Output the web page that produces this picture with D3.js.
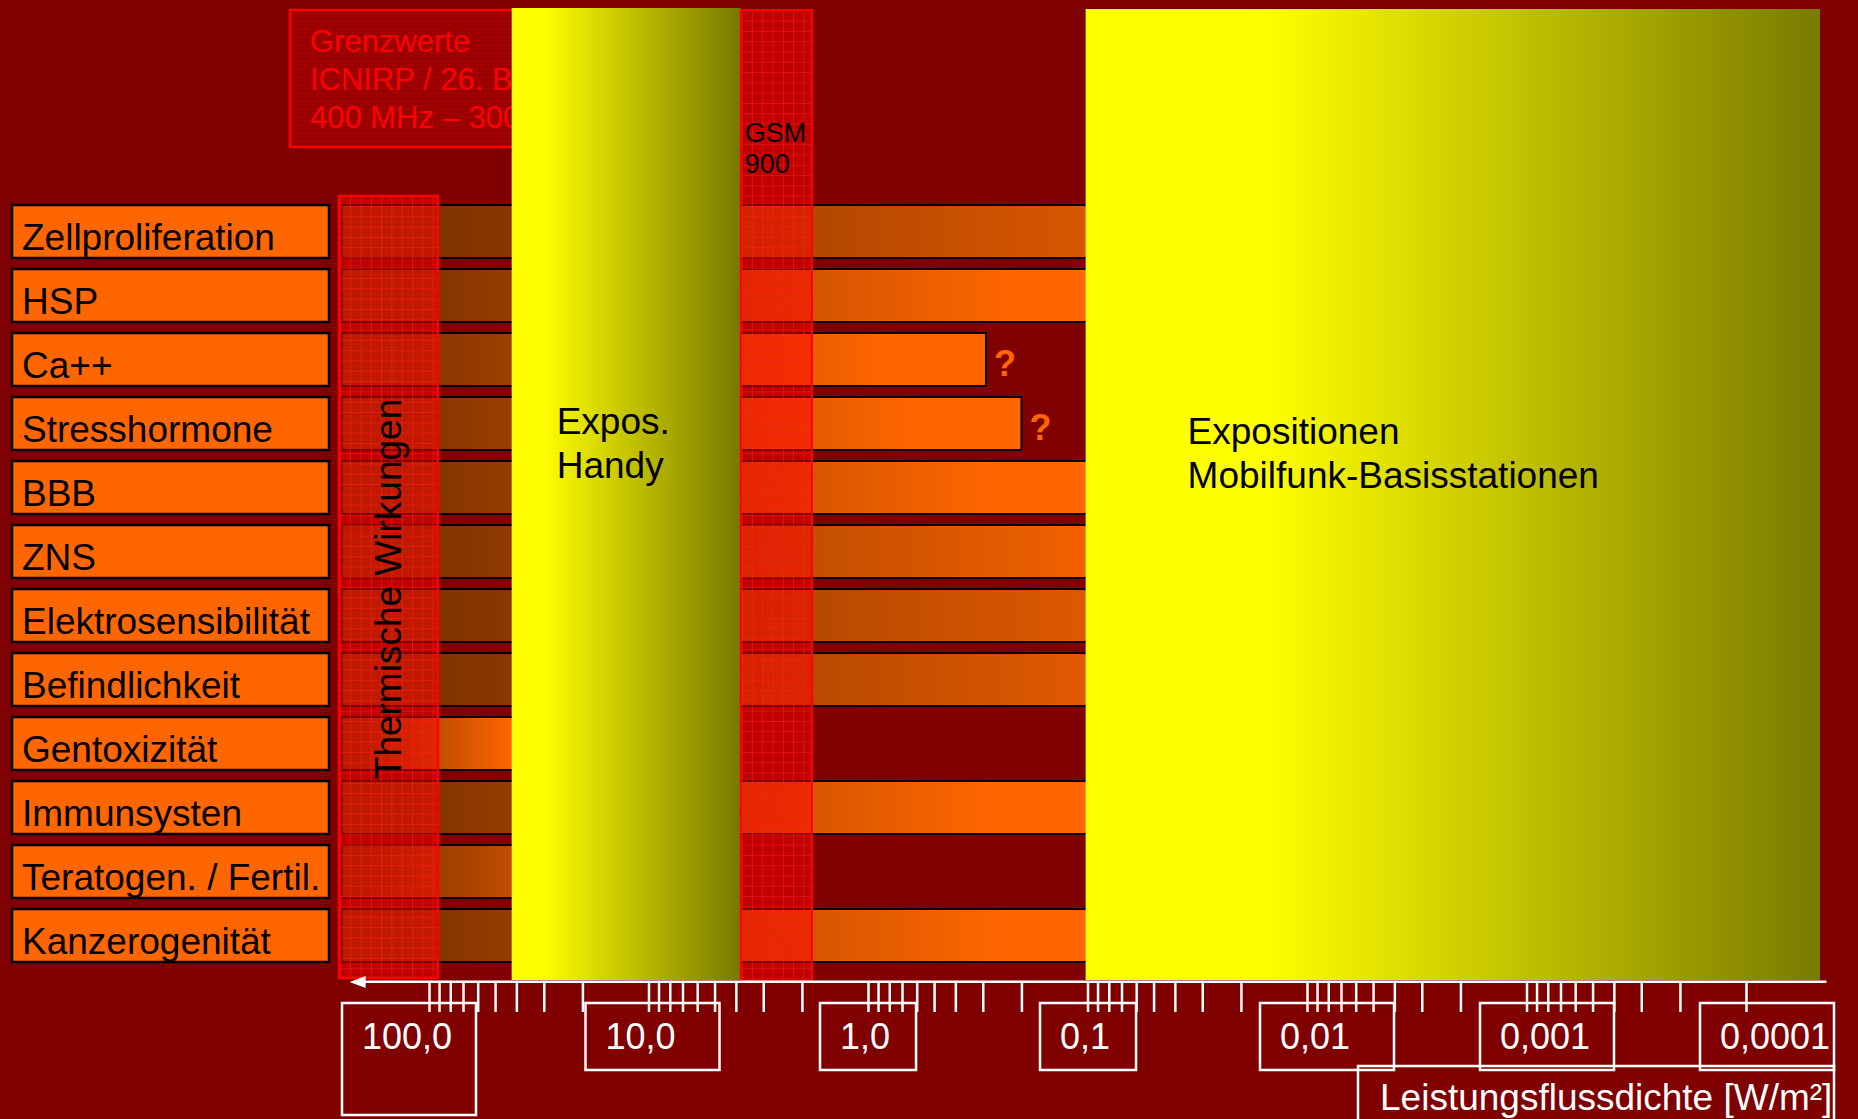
<!DOCTYPE html>
<html lang="de">
<head>
<meta charset="UTF-8">
<title>Biologische Wirkungen und Leistungsflussdichte</title>
<script src="https://cdn.jsdelivr.net/npm/d3@7"></script>
<style>
    body {
        margin: 0;
        background: #800000;
    }
    svg {
        display: block;
        font-family: "Liberation Sans", Arial, Helvetica, sans-serif;
    }
</style>
</head>
<body>
<svg id="chart" width="1858" height="1119"></svg>
<script>
// effects and lowest power density (W/m²) down to which they were reported
var effects = ["Zellproliferation", "HSP", "Ca++", "Stresshormone", "BBB", "ZNS",
    "Elektrosensibilität", "Befindlichkeit", "Gentoxizität", "Immunsysten",
    "Teratogen. / Fertil.", "Kanzerogenität"];
var effectLimits = [0.0008, 0.06, 0.29, 0.2, 0.08, 0.01, 0.0015, 0.002, 30, 0.08, 5, 0.07];
var uncertain = [false, false, true, true, false, false, false, false, false, false, false, false];
var barStart = 250;

// ranges on the power density axis (W/m²)
var thermalRange = [257, 91];
var limitRange = [430, 3.8];
var handyRange = [42, 3.8];
var gsmRange = [3.8, 1.8];
var baseStationRange = [0.102, 0.000046];
var axisExtent = [230, 0.000043];

var tickValues = [100, 10, 1, 0.1, 0.01, 0.001, 0.0001];
var tickLabels = ["100,0", "10,0", "1,0", "0,1", "0,01", "0,001", "0,0001"];
var limitText = ["Grenzwerte", "ICNIRP / 26. BImSchV", "400 MHz – 300 GHz"];

var svg = d3.select("#chart"),
    width = +svg.attr("width"),
    height = +svg.attr("height");

svg.append("rect").attr("width", width).attr("height", height).attr("fill", "#800000");

var x = d3.scaleLog()
    .domain([100, 0.0001])
    .range([429, 1746]);

var y = d3.scaleBand()
    .domain(effects)
    .range([205, 962])
    .paddingInner(0.172);

// label boxes sit slightly off the decade ticks
var labelX = d3.scaleLog()
    .domain([100, 10, 1, 0.0001])
    .range([x(100) - 87, x(10) - 63, x(1) - 48, x(0.0001) - 46]);

var defs = svg.append("defs");

var grid = defs.append("pattern")
    .attr("id", "grid")
    .attr("patternUnits", "userSpaceOnUse")
    .attr("width", 10.3).attr("height", 10.3);
grid.append("rect").attr("width", 10.3).attr("height", 10.3).attr("fill", "rgba(255,0,0,0.5)");
grid.append("path").attr("d", "M0,0.5H10.3M0.5,0V10.3")
    .attr("stroke", "rgba(255,30,30,0.55)").attr("stroke-width", 1);

var dots = defs.append("pattern")
    .attr("id", "dots")
    .attr("patternUnits", "userSpaceOnUse")
    .attr("width", 4).attr("height", 4);
dots.append("rect").attr("width", 4).attr("height", 4).attr("fill", "rgba(255,0,0,0.2)");
dots.append("rect").attr("width", 2).attr("height", 2).attr("fill", "rgba(255,0,0,0.12)");

var barGrad = defs.append("linearGradient").attr("id", "barGrad");
[[0, "#7f3300"], [0.08, "#7f3300"], [0.85, "#ff6600"], [1, "#ff6600"]].forEach(function (s) {
    barGrad.append("stop").attr("offset", s[0]).attr("stop-color", s[1]);
});

function yellowGrad(id, flat, end) {
    var g = defs.append("linearGradient").attr("id", id);
    g.append("stop").attr("offset", 0).attr("stop-color", "#ffff00");
    g.append("stop").attr("offset", flat).attr("stop-color", "#ffff00");
    g.append("stop").attr("offset", 1).attr("stop-color", end);
}
yellowGrad("handyGrad", 0.13, "#787800");
yellowGrad("baseGrad", 0.24, "#7a7a00");

// Grenzwerte box (mostly hidden behind the handy column)
svg.append("rect")
    .attr("x", x(limitRange[0])).attr("y", 10)
    .attr("width", x(limitRange[1]) - x(limitRange[0])).attr("height", 137)
    .attr("fill", "url(#dots)")
    .attr("stroke", "#ff0000").attr("stroke-width", 2.5);

svg.append("text")
    .attr("font-size", 31).attr("fill", "#ff0000")
    .selectAll("tspan")
    .data(limitText)
    .enter().append("tspan")
    .attr("x", x(limitRange[0]) + 20)
    .attr("y", function (d, i) { return 52 + i * 38; })
    .text(function (d) { return d; });

// effect labels
var label = svg.append("g").selectAll("g")
    .data(effects)
    .enter().append("g")
    .attr("transform", function (d) { return "translate(12," + y(d) + ")"; });

label.append("rect")
    .attr("width", 317).attr("height", y.bandwidth())
    .attr("fill", "#ff6600")
    .attr("stroke", "#000").attr("stroke-width", 2.5);

label.append("text")
    .attr("x", 10).attr("y", 45)
    .attr("font-size", 37).attr("fill", "#000")
    .text(function (d) { return d; });

// effect bars
svg.append("g").selectAll("rect")
    .data(effects)
    .enter().append("rect")
    .attr("x", x(barStart))
    .attr("y", function (d) { return y(d); })
    .attr("width", function (d, i) { return x(effectLimits[i]) - x(barStart); })
    .attr("height", y.bandwidth())
    .attr("fill", "url(#barGrad)")
    .attr("stroke", "#000").attr("stroke-width", 2);

svg.append("g").selectAll("text")
    .data(effects.filter(function (d, i) { return uncertain[i]; }))
    .enter().append("text")
    .attr("x", function (d) { return x(effectLimits[effects.indexOf(d)]) + 8; })
    .attr("y", function (d) { return y(d) + 43; })
    .attr("font-size", 36).attr("font-weight", "bold").attr("fill", "#ff6600")
    .text("?");

// thermal effects
svg.append("rect")
    .attr("x", x(thermalRange[0])).attr("y", 196)
    .attr("width", x(thermalRange[1]) - x(thermalRange[0])).attr("height", 782)
    .attr("fill", "url(#grid)")
    .attr("stroke", "#ff0000").attr("stroke-width", 2.5);

svg.append("text")
    .attr("transform", "translate(401,589) rotate(-90)")
    .attr("text-anchor", "middle")
    .attr("font-size", 37).attr("fill", "#000")
    .text("Thermische Wirkungen");

// exposure from handsets
svg.append("rect")
    .attr("x", x(handyRange[0])).attr("y", 8)
    .attr("width", x(handyRange[1]) - x(handyRange[0])).attr("height", 972)
    .attr("fill", "url(#handyGrad)");

svg.append("text")
    .attr("font-size", 37).attr("fill", "#000")
    .selectAll("tspan")
    .data(["Expos.", "Handy"])
    .enter().append("tspan")
    .attr("x", x(handyRange[0]) + 45)
    .attr("y", function (d, i) { return 434 + i * 44; })
    .text(function (d) { return d; });

// GSM 900 limit
svg.append("rect")
    .attr("x", x(gsmRange[0])).attr("y", 10)
    .attr("width", x(gsmRange[1]) - x(gsmRange[0])).attr("height", 971)
    .attr("fill", "url(#grid)")
    .attr("stroke", "#ff0000").attr("stroke-width", 2);

svg.append("text")
    .attr("font-size", 27).attr("fill", "#000")
    .selectAll("tspan")
    .data(["GSM", "900"])
    .enter().append("tspan")
    .attr("x", x(gsmRange[0]) + 4)
    .attr("y", function (d, i) { return 142 + i * 31; })
    .text(function (d) { return d; });

// exposure from base stations
svg.append("rect")
    .attr("x", x(baseStationRange[0])).attr("y", 9)
    .attr("width", x(baseStationRange[1]) - x(baseStationRange[0])).attr("height", 971)
    .attr("fill", "url(#baseGrad)");

svg.append("text")
    .attr("font-size", 37).attr("fill", "#000")
    .selectAll("tspan")
    .data(["Expositionen", "Mobilfunk-Basisstationen"])
    .enter().append("tspan")
    .attr("x", x(baseStationRange[0]) + 102)
    .attr("y", function (d, i) { return 444 + i * 44; })
    .text(function (d) { return d; });

// axis
svg.append("line")
    .attr("x1", x(axisExtent[0]) + 12).attr("x2", x(axisExtent[1]))
    .attr("y1", 981.8).attr("y2", 981.8)
    .attr("stroke", "#fff").attr("stroke-width", 2.6);

svg.append("path")
    .attr("d", "M" + x(axisExtent[0]) + ",982l16,-6v12z")
    .attr("fill", "#fff");

var axis = svg.append("g")
    .attr("transform", "translate(0,983)")
    .call(d3.axisBottom(x).tickValues(x.ticks()).tickSize(29).tickFormat(""));
axis.select(".domain").remove();
axis.selectAll(".tick line").attr("stroke", "#fff").attr("stroke-width", 2.5);

var tickBox = svg.append("g").selectAll("g")
    .data(tickValues)
    .enter().append("g")
    .attr("transform", function (d) { return "translate(" + labelX(d) + ",1003)"; });

tickBox.append("text")
    .attr("x", 20).attr("y", 46)
    .attr("font-size", 36).attr("fill", "#fff")
    .text(function (d, i) { return tickLabels[i]; });

tickBox.insert("rect", "text")
    .attr("width", function () {
        var len = this.parentNode.querySelector("text").getComputedTextLength();
        return len > 60 ? Math.max(134, len + 22) : len + 46;
    })
    .attr("height", function (d, i) { return i === 0 ? 112 : 67; })
    .attr("fill", "none")
    .attr("stroke", "#fff").attr("stroke-width", 2.5);

var title = svg.append("g").attr("transform", "translate(1358,1066)");
title.append("rect")
    .attr("width", 476).attr("height", 80)
    .attr("fill", "none")
    .attr("stroke", "#fff").attr("stroke-width", 2.5);
title.append("text")
    .attr("x", 22).attr("y", 44)
    .attr("font-size", 37).attr("fill", "#fff")
    .text("Leistungsflussdichte [W/m²]");
</script>
</body>
</html>
